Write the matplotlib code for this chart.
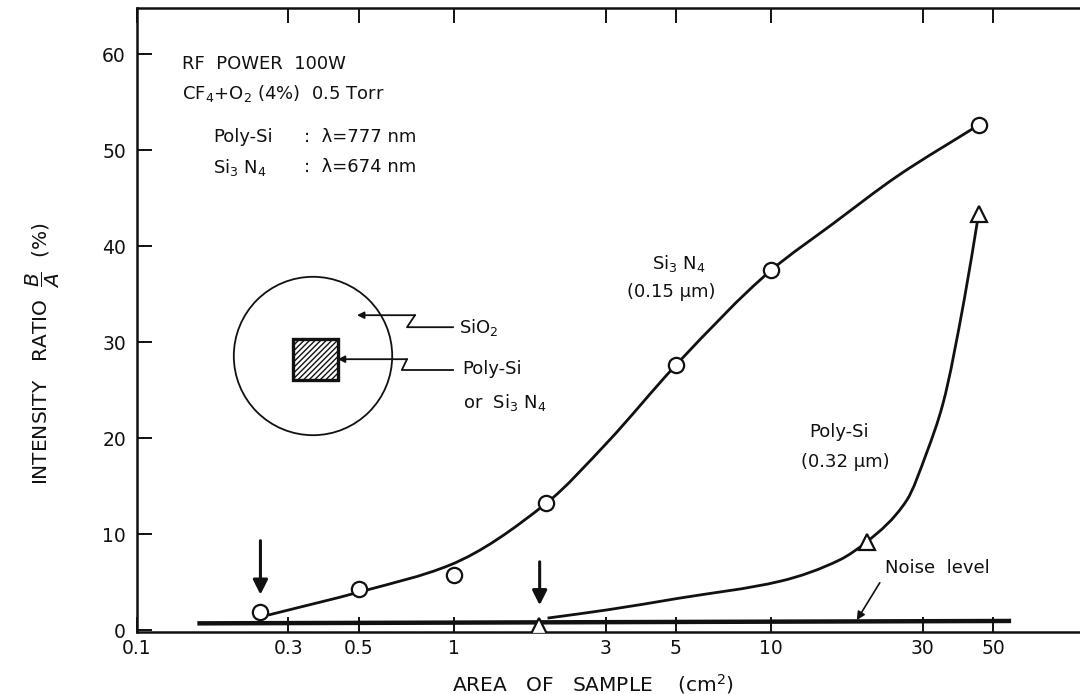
import numpy as np
import matplotlib
matplotlib.use('Agg')
import matplotlib.pyplot as plt
from matplotlib.patches import Circle, Rectangle, PathPatch
from matplotlib.path import Path
from matplotlib.ticker import NullLocator

# Si3N4 (0.15 um) measured points
si3n4_area = [0.245, 0.5, 1.0, 1.95, 5.0, 10.0, 45.0]
si3n4_ratio = [1.9, 4.3, 5.7, 13.2, 27.6, 37.5, 52.6]
# hand-drawn trend curve through the Si3N4 points
si3n4_curve_x = [0.259, 0.515, 0.969, 1.95, 3.03, 5.0, 10.0, 15.6, 25.0, 45.0]
si3n4_curve_y = [1.56, 4.06, 6.77, 13.2, 19.5, 27.6, 37.5, 42.3, 47.3, 52.6]

# Poly-Si (0.32 um) measured points
polysi_area = [1.85, 20.0, 45.0]
polysi_ratio = [0.4, 9.2, 43.3]
polysi_curve_x = [1.97, 3.03, 5.07, 10.7, 16.4, 20.0, 26.7, 30.9, 34.7, 40.6, 45.0]
polysi_curve_y = [1.25, 2.1, 3.3, 5.1, 7.3, 9.2, 13.5, 18.5, 23.5, 34.5, 43.3]

# noise floor
noise_x = [0.155, 57.0]
noise_y = [0.7, 0.95]

# onset arrows (area, top, tip)
arrow_x = [0.245, 1.86]
arrow_top = [9.6, 7.4]
arrow_tip = [3.4, 2.3]

xticks = [0.1, 0.3, 0.5, 1, 3, 5, 10, 30, 50]
xtick_labels = ['0.1', '0.3', '0.5', '1', '3', '5', '10', '30', '50']
yticks = [0, 10, 20, 30, 40, 50, 60]

plt.rcParams['font.family'] = ['DejaVu Sans']
plt.rcParams['hatch.linewidth'] = 1.0
ink = '#111111'


def smooth_curve(xs, ys):
    # shape-preserving cubic (Fritsch-Carlson slopes) in log-x space, as bezier segments
    u = np.log10(xs)
    v = np.asarray(ys, dtype=float)
    h = np.diff(u)
    d = np.diff(v) / h
    s = np.empty_like(v)
    s[0], s[-1] = d[0], d[-1]
    for k in range(1, len(v) - 1):
        if d[k - 1] * d[k] <= 0:
            s[k] = 0.0
        else:
            w1 = 2 * h[k] + h[k - 1]
            w2 = h[k] + 2 * h[k - 1]
            s[k] = (w1 + w2) / (w1 / d[k - 1] + w2 / d[k])
    verts = [(u[0], v[0])]
    codes = [Path.MOVETO]
    for k in range(len(h)):
        verts += [(u[k] + h[k] / 3, v[k] + s[k] * h[k] / 3),
                  (u[k + 1] - h[k] / 3, v[k + 1] - s[k + 1] * h[k] / 3),
                  (u[k + 1], v[k + 1])]
        codes += [Path.CURVE4] * 3
    verts = np.array(verts)
    verts[:, 0] = 10 ** verts[:, 0]
    return Path(verts, codes)


fig = plt.figure(figsize=(10.8, 6.94), dpi=100)
ax = fig.add_axes([137 / 1080, 1 - 632 / 694, 943 / 1080, 624 / 694])
ax.set_xscale('log')
ax.set_xlim(0.1, 94)
ax.set_ylim(-0.2, 64.8)

ax.set_xticks(xticks)
ax.set_xticklabels(xtick_labels)
ax.xaxis.set_minor_locator(NullLocator())
ax.set_yticks(yticks)
ax.tick_params(direction='in', top=True, length=11, width=1.4, labelsize=13.5, colors=ink)
ax.tick_params(axis='x', pad=5)
ax.tick_params(axis='y', pad=8)
ax.spines['right'].set_visible(False)
for side in ['left', 'top', 'bottom']:
    ax.spines[side].set_linewidth(1.8)
    ax.spines[side].set_color(ink)

# curves and points
ax.plot(noise_x, noise_y, color=ink, lw=3.2, solid_capstyle='butt')
ax.add_patch(PathPatch(smooth_curve(si3n4_curve_x, si3n4_curve_y), fill=False, ec=ink, lw=2.0))
ax.add_patch(PathPatch(smooth_curve(polysi_curve_x, polysi_curve_y), fill=False, ec=ink, lw=2.0))
ax.plot(si3n4_area, si3n4_ratio, 'o', ms=11, mfc='white', mec=ink, mew=1.6, zorder=5)
ax.plot(polysi_area, polysi_ratio, '^', ms=12, mfc='white', mec=ink, mew=1.6, zorder=5)

for xa, top, tip in zip(arrow_x, arrow_top, arrow_tip):
    ax.annotate('', xy=(xa, tip), xytext=(xa, top),
                arrowprops=dict(arrowstyle='-|>', color=ink, lw=2.2, mutation_scale=22))

# labels inside the plot
txt = dict(fontsize=13, color=ink)
ax.text(0.139, 59.0, 'RF  POWER  100W', ha='left', va='center', **txt)
ax.text(0.139, 55.9, 'CF$_4$+O$_2$ (4%)  0.5 Torr', ha='left', va='center', **txt)
ax.text(0.174, 51.4, 'Poly-Si', ha='left', va='center', **txt)
ax.text(0.335, 51.4, ':  λ=777 nm', ha='left', va='center', **txt)
ax.text(0.174, 48.2, 'Si$_3$ N$_4$', ha='left', va='center', **txt)
ax.text(0.335, 48.2, ':  λ=674 nm', ha='left', va='center', **txt)

ax.text(5.1, 38.2, 'Si$_3$ N$_4$', ha='center', va='center', **txt)
ax.text(4.85, 35.2, '(0.15 μm)', ha='center', va='center', **txt)
ax.text(16.4, 20.6, 'Poly-Si', ha='center', va='center', **txt)
ax.text(17.1, 17.5, '(0.32 μm)', ha='center', va='center', **txt)
ax.annotate('Noise  level', xy=(18.6, 1.04), xytext=(22.9, 6.46), ha='left', va='center',
            arrowprops=dict(arrowstyle='-|>', color=ink, lw=1.2, mutation_scale=12,
                            shrinkA=4, shrinkB=0, relpos=(0, 0.2)), **txt)

# sample sketch: SiO2 disc with a hatched film patch
ins = fig.add_axes([233 / 1080, 1 - 437 / 694, 160 / 1080, 162 / 694])
ins.set_xlim(-1, 1)
ins.set_ylim(-1, 1)
ins.set_aspect('equal')
ins.axis('off')
ins.add_patch(Circle((0, 0), 0.99, fill=False, ec=ink, lw=1.3, clip_on=False))
ins.add_patch(Rectangle((-0.25, -0.3), 0.56, 0.51, fc='white', ec=ink, lw=2.4,
                        hatch='//////', clip_on=False))

ins.plot([1.275, 1.175, 1.75], [0.51, 0.36, 0.36], color=ink, lw=1.3, clip_on=False)
ins.annotate('', xy=(0.55, 0.51), xytext=(1.275, 0.51), annotation_clip=False,
             arrowprops=dict(arrowstyle='-|>', color=ink, lw=1.3, mutation_scale=10,
                             shrinkA=0, shrinkB=0))
ins.text(1.82, 0.36, 'SiO$_2$', ha='left', va='center', clip_on=False, **txt)

ins.plot([1.175, 1.11, 1.75], [-0.04, -0.175, -0.175], color=ink, lw=1.3, clip_on=False)
ins.annotate('', xy=(0.31, -0.04), xytext=(1.175, -0.04), annotation_clip=False,
             arrowprops=dict(arrowstyle='-|>', color=ink, lw=1.3, mutation_scale=10,
                             shrinkA=0, shrinkB=0))
ins.text(1.86, -0.16, 'Poly-Si', ha='left', va='center', clip_on=False, **txt)
ins.text(1.875, -0.575, 'or  Si$_3$ N$_4$', ha='left', va='center', clip_on=False, **txt)

# axis titles
fig.text(593 / 1080, 1 - 684 / 694, 'AREA   OF   SAMPLE    (cm$^2$)', ha='center', va='center',
         fontsize=14.5, color=ink)
fig.text(43 / 1080, 1 - 354 / 694, r'INTENSITY   RATIO  $\dfrac{B}{A}$  (%)', rotation=90,
         ha='center', va='center', fontsize=14.5, color=ink)

fig.savefig('out.png', dpi=100, facecolor='white')
